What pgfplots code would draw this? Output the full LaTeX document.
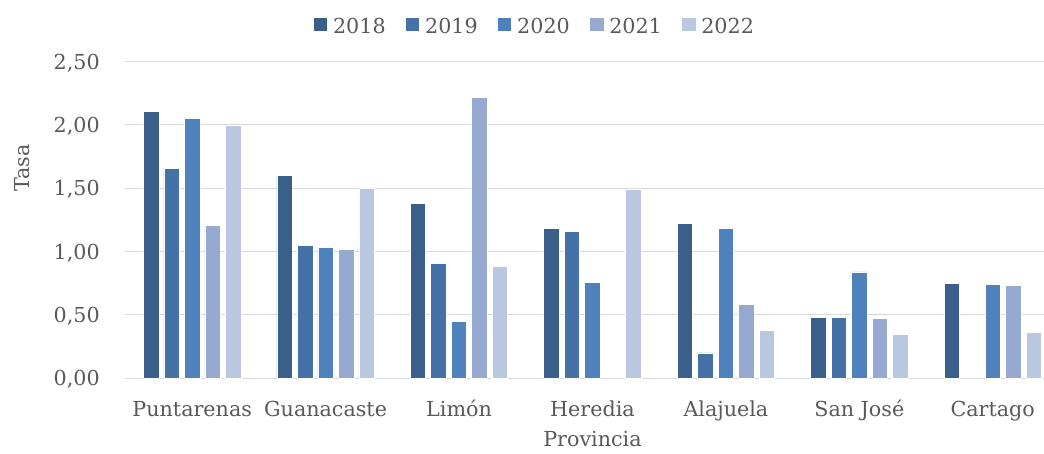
\documentclass[border=0pt]{standalone}
\usepackage{fontspec}
\setmainfont{DejaVu Serif}
\usepackage{pgfplots}
\usepackage{pgfplotstable}
\pgfplotsset{compat=1.18}

\definecolor{txt}{HTML}{595959}
\definecolor{gridc}{HTML}{D9D9D9}
\definecolor{c18}{HTML}{3A5F8B}
\definecolor{c19}{HTML}{4472A7}
\definecolor{c20}{HTML}{4F81BD}
\definecolor{c21}{HTML}{95A9D1}
\definecolor{c22}{HTML}{BAC7E0}

\newcommand\ff{\fontsize{15.5bp}{18bp}\selectfont}

% tasa por provincia y año (nan = sin dato)
\pgfplotstableread{
x    a    b    c    d    e
0 2.11 1.66 2.05 1.21 2.00
1 1.60 1.05 1.03 1.02 1.50
2 1.38 0.91 0.45 2.22 0.88
3 1.18 1.16 0.76 nan  1.49
4 1.22 0.20 1.18 0.58 0.38
5 0.48 0.48 0.84 0.47 0.35
6 0.75 nan  0.74 0.73 0.36
}\datos

\begin{document}
\begin{tikzpicture}
\begin{axis}[
  name=ax,
  scale only axis,
  width=700.5bp, height=237.5bp,
  xmin=-0.5, xmax=6.5, ymin=0, ymax=2.5,
  ybar=3.775bp, bar width=11.6bp,
  axis line style={draw=none},
  major tick length=0pt,
  ymajorgrids, grid style={gridc, line width=0.8bp},
  ytick={0,0.5,...,2.5},
  xtick={0,...,6},
  xticklabels={Puntarenas,Guanacaste,Limón,Heredia,Alajuela,San José,Cartago},
  /pgf/number format/.cd, fixed, fixed zerofill, precision=2, use comma,
  assume math mode=true, /pgfplots/.cd,
  yticklabel style={font=\ff, text=txt, anchor=base east, inner sep=0pt,
    xshift=-19.1bp, yshift=-5.6bp},
  xticklabel style={font=\ff, text=txt, anchor=base, inner sep=0pt, yshift=-28.8bp},
  ylabel={Tasa}, xlabel={Provincia},
  every axis y label/.style={at={(axis description cs:-0.1103,0.664)},
    rotate=90, anchor=center, font=\ff, text=txt},
  every axis x label/.style={at={(axis description cs:0.5,0)},
    anchor=base, yshift=-51.3bp, font=\ff, text=txt},
  legend columns=-1,
  legend style={at={(axis description cs:0.4374,1)}, anchor=center, yshift=26.4bp,
    draw=none, fill=none, font=\ff, text=txt,
    nodes={inner sep=0pt},
    /tikz/every odd column/.append style={column sep=4.3bp},
    /tikz/every even column/.append style={column sep=15.3bp}},
  legend image code/.code={\fill[#1,draw=none] (0bp,-3.5bp) rectangle (10bp,6.5bp);},
]
\addplot[fill=c18, draw=white, line width=0.5bp] table[x=x, y=a] {\datos};
\addlegendentry{2018}
\addplot[fill=c19, draw=white, line width=0.5bp] table[x=x, y=b] {\datos};
\addlegendentry{2019}
\addplot[fill=c20, draw=white, line width=0.5bp] table[x=x, y=c] {\datos};
\addlegendentry{2020}
\addplot[fill=c21, draw=white, line width=0.5bp] table[x=x, y=d] {\datos};
\addlegendentry{2021}
\addplot[fill=c22, draw=white, line width=0.5bp] table[x=x, y=e] {\datos};
\addlegendentry{2022}
\end{axis}
\pgfresetboundingbox
\path[use as bounding box] ([shift={(-94.1bp,-56.8bp)}]ax.south west)
  rectangle ([shift={(688.9bp,283.7bp)}]ax.south west);
\end{tikzpicture}
\end{document}
